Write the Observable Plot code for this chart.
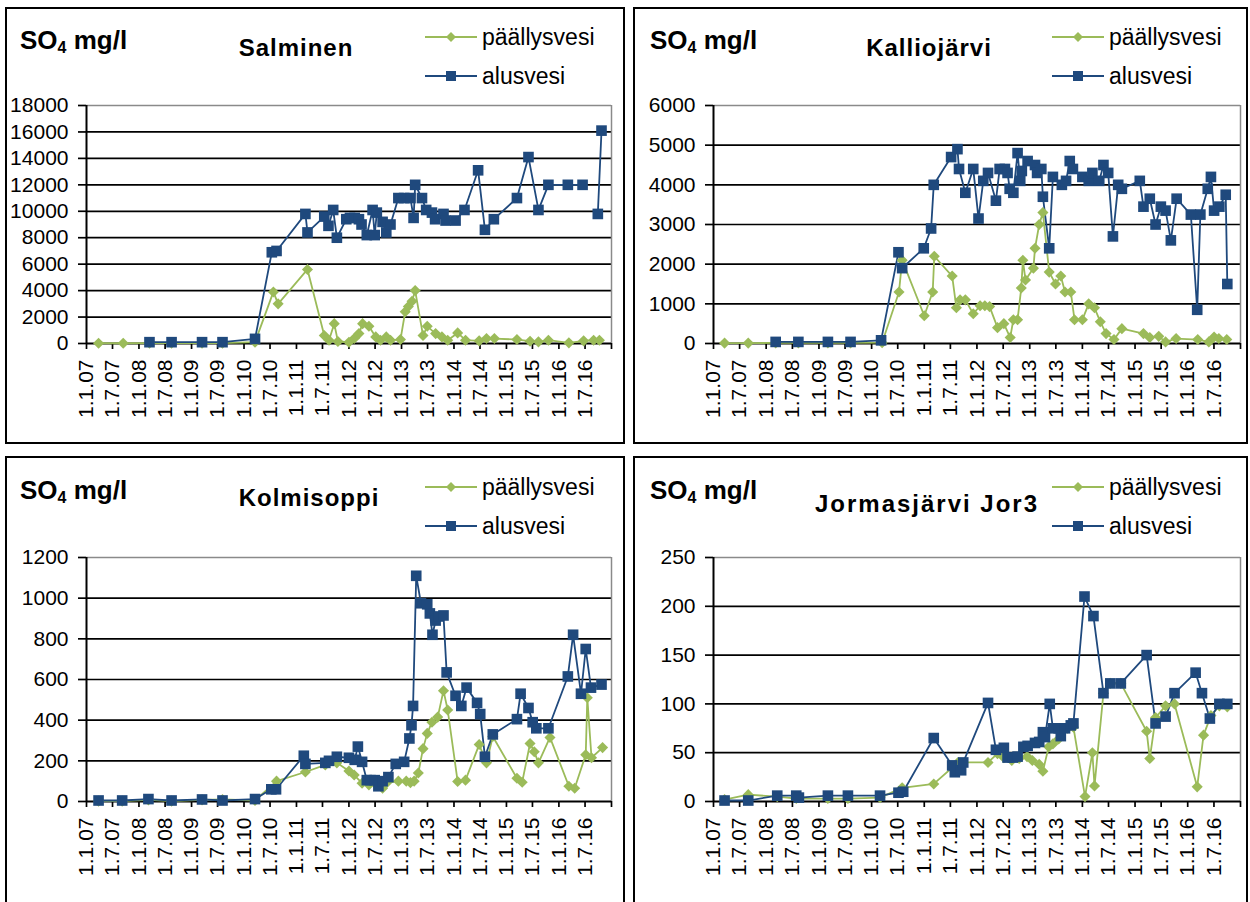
<!DOCTYPE html>
<html><head><meta charset="utf-8">
<script src="https://cdn.jsdelivr.net/npm/d3@7"></script>
<script src="https://cdn.jsdelivr.net/npm/@observablehq/plot@0.6"></script>
<style>
body{margin:0;background:#fff;font-family:"Liberation Sans",Arial,sans-serif;color:#000;}
#root{position:relative;width:1250px;height:902px;overflow:hidden;background:#fff;}
.frame{position:absolute;border:2px solid #000;box-sizing:border-box;}
.chart{position:absolute;}
.unit{position:absolute;font-weight:bold;font-size:26px;line-height:26px;white-space:nowrap;}
.unit sub{font-size:16px;vertical-align:baseline;position:relative;top:4px;}
.title{position:absolute;font-weight:bold;font-size:24px;line-height:24px;white-space:nowrap;transform:translateX(-50%);}
.leg{position:absolute;display:flex;align-items:center;height:26px;font-size:23px;white-space:nowrap;}
.leg svg{margin-right:5px;display:block;}
</style></head><body><div id="root"></div>
<script>
// ---------- DATA (decimal year, SO4 mg/l) ----------
const xTickLabels = ["1.1.07","1.7.07","1.1.08","1.7.08","1.1.09","1.7.09","1.1.10","1.7.10","1.1.11","1.7.11",
  "1.1.12","1.7.12","1.1.13","1.7.13","1.1.14","1.7.14","1.1.15","1.7.15","1.1.16","1.7.16"];
const seriesNames = ["päällysvesi","alusvesi"];

const salminenYTicks = [0,2000,4000,6000,8000,10000,12000,14000,16000,18000];
const salminenPaallysvesi = [[2007.23,20],[2007.70,20],[2008.20,30],[2008.62,30],[2009.20,30],[2009.59,30],[2010.21,100],
  [2010.56,3900],[2010.65,3000],[2011.21,5600],[2011.53,600],[2011.62,250],[2011.72,1500],[2011.79,150],[2012.00,100],
  [2012.10,375],[2012.19,750],[2012.26,1500],[2012.38,1300],[2012.51,500],[2012.60,250],[2012.71,500],[2012.79,250],
  [2012.98,300],[2013.07,2400],[2013.13,2800],[2013.20,3200],[2013.26,4000],[2013.41,600],[2013.49,1300],[2013.65,750],
  [2013.77,500],[2013.88,250],[2014.07,800],[2014.22,250],[2014.48,200],[2014.62,375],[2014.77,375],[2015.20,300],
  [2015.45,175],[2015.61,125],[2015.80,250],[2016.19,50],[2016.47,200],[2016.66,250],[2016.77,250]];
const salminenAlusvesi = [[2008.20,100],[2008.62,100],[2009.20,100],[2009.59,100],[2010.21,350],[2010.53,6900],[2010.62,7000],
  [2011.17,9800],[2011.21,8400],[2011.53,9600],[2011.61,8900],[2011.70,10100],[2011.77,8000],[2011.95,9400],[2012.02,9500],
  [2012.11,9500],[2012.19,9400],[2012.24,9000],[2012.34,8200],[2012.45,10100],[2012.49,8200],[2012.53,9900],[2012.64,9200],
  [2012.71,8400],[2012.79,9000],[2012.94,11000],[2013.05,11000],[2013.17,11000],[2013.23,9500],[2013.26,12000],[2013.39,11000],
  [2013.47,10100],[2013.58,9900],[2013.64,9400],[2013.80,9800],[2013.84,9300],[2014.03,9300],[2014.20,10100],[2014.46,13100],
  [2014.59,8600],[2014.76,9400],[2015.20,11000],[2015.42,14100],[2015.61,10100],[2015.80,12000],[2016.17,12000],[2016.45,12000],
  [2016.62,null],[2016.74,9800],[2016.81,16100]];

const kalliojarviYTicks = [0,1000,2000,3000,4000,5000,6000];
const kalliojarviPaallysvesi = [[2007.21,10],[2007.66,10],[2008.18,15],[2008.61,15],[2009.17,15],[2009.60,15],[2010.20,20],
  [2010.52,1300],[2010.58,2100],[2011.00,700],[2011.16,1300],[2011.19,2200],[2011.53,1700],[2011.61,900],[2011.68,1100],
  [2011.78,1100],[2011.93,750],[2012.06,950],[2012.15,950],[2012.24,930],[2012.39,400],[2012.51,500],[2012.63,150],
  [2012.69,600],[2012.77,600],[2012.84,1400],[2012.87,2100],[2012.92,1600],[2013.07,1900],[2013.10,2400],[2013.18,3000],
  [2013.25,3300],[2013.37,1800],[2013.49,1500],[2013.59,1700],[2013.67,1300],[2013.78,1300],[2013.85,600],[2014.00,600],
  [2014.12,1000],[2014.23,900],[2014.34,550],[2014.45,250],[2014.60,100],[2014.75,375],[2015.16,250],[2015.28,150],
  [2015.45,180],[2015.58,40],[2015.78,125],[2016.19,100],[2016.40,40],[2016.50,165],[2016.59,125],[2016.74,100]];
const kalliojarviAlusvesi = [[2008.18,40],[2008.61,40],[2009.17,40],[2009.60,40],[2010.18,80],[2010.51,2300],[2010.58,1900],
  [2010.99,2400],[2011.13,2900],[2011.18,4000],[2011.51,4700],[2011.63,4900],[2011.66,4400],[2011.78,3800],[2011.93,4400],
  [2012.03,3150],[2012.12,4100],[2012.21,4300],[2012.36,3600],[2012.43,4400],[2012.53,4400],[2012.58,4300],[2012.62,3900],
  [2012.69,3800],[2012.77,4800],[2012.82,4100],[2012.85,4350],[2012.96,4600],[2013.10,4500],[2013.14,4300],[2013.22,4400],
  [2013.25,3700],[2013.37,2400],[2013.44,4200],[2013.61,4000],[2013.69,4100],[2013.76,4600],[2013.82,4400],[2014.00,4200],
  [2014.12,4100],[2014.19,4300],[2014.32,4100],[2014.40,4500],[2014.49,4300],[2014.58,2700],[2014.68,4000],[2014.75,3900],
  [2015.09,4100],[2015.16,3450],[2015.28,3650],[2015.39,3000],[2015.49,3450],[2015.58,3350],[2015.68,2600],[2015.79,3650],
  [2016.06,3250],[2016.18,850],[2016.24,3250],[2016.38,3900],[2016.44,4200],[2016.50,3350],[2016.60,3450],[2016.72,3750],
  [2016.75,1500]];

const kolmisoppiYTicks = [0,200,400,600,800,1000,1200];
const kolmisoppiPaallysvesi = [[2007.23,2],[2007.68,2],[2008.18,8],[2008.62,2],[2009.20,8],[2009.59,10],[2010.21,5],
  [2010.62,100],[2011.17,145],[2011.55,180],[2011.77,190],[2012.00,150],[2012.10,130],[2012.25,90],[2012.38,82],
  [2012.49,90],[2012.64,65],[2012.71,90],[2012.94,100],[2013.09,100],[2013.17,93],[2013.24,100],[2013.32,140],
  [2013.41,260],[2013.49,335],[2013.58,390],[2013.69,415],[2013.80,545],[2013.88,450],[2014.07,98],[2014.22,105],
  [2014.48,280],[2014.62,190],[2014.74,320],[2015.20,114],[2015.30,95],[2015.45,285],[2015.53,245],[2015.61,190],
  [2015.83,315],[2016.19,75],[2016.30,65],[2016.51,230],[2016.54,510],[2016.62,215],[2016.83,265]];
const kolmisoppiAlusvesi = [[2007.23,5],[2007.68,5],[2008.18,12],[2008.62,5],[2009.20,10],[2009.59,5],[2010.21,12],
  [2010.52,60],[2010.61,60],[2011.14,225],[2011.17,185],[2011.55,190],[2011.62,200],[2011.77,220],[2012.00,215],
  [2012.11,205],[2012.17,270],[2012.25,195],[2012.34,105],[2012.41,105],[2012.49,105],[2012.56,75],[2012.64,100],
  [2012.75,120],[2012.89,185],[2013.05,195],[2013.15,310],[2013.19,375],[2013.22,470],[2013.28,1110],[2013.37,975],
  [2013.49,970],[2013.54,925],[2013.59,820],[2013.65,890],[2013.71,910],[2013.80,915],[2013.86,635],[2014.03,520],
  [2014.14,470],[2014.24,560],[2014.44,485],[2014.50,430],[2014.59,220],[2014.74,330],[2015.20,405],[2015.27,530],
  [2015.42,460],[2015.50,390],[2015.57,360],[2015.80,360],[2016.17,615],[2016.27,820],[2016.42,530],[2016.51,750],
  [2016.61,560],[2016.81,575]];

const jor3YTicks = [0,50,100,150,200,250];
const jor3Paallysvesi = [[2007.21,2],[2007.66,7],[2008.21,5],[2008.57,3],[2009.17,3],[2009.55,3],[2010.16,4],[2010.58,14],
  [2011.18,18],[2011.64,40],[2012.21,40],[2012.39,49],[2012.51,45],[2012.66,42],[2012.80,44],[2012.95,46],[2013.05,42],
  [2013.18,38],[2013.25,31],[2013.36,56],[2013.44,59],[2013.55,64],[2013.72,75],[2013.83,76],[2014.05,5],[2014.19,50],
  [2014.23,16],[2014.40,111],[2014.53,121],[2014.73,121],[2015.22,72],[2015.28,44],[2015.39,86],[2015.58,98],[2015.75,100],
  [2016.18,15],[2016.30,68],[2016.44,88],[2016.60,98],[2016.75,97]];
const jor3Alusvesi = [[2007.21,1],[2007.66,1],[2008.21,6],[2008.57,6],[2008.62,4],[2009.17,6],[2009.55,6],[2010.16,6],
  [2010.51,9],[2010.60,10],[2011.18,65],[2011.53,37],[2011.58,30],[2011.70,32],[2011.74,40],[2012.21,101],[2012.36,53],
  [2012.51,55],[2012.58,45],[2012.68,45],[2012.77,46],[2012.88,56],[2012.96,57],[2013.10,60],[2013.18,61],[2013.25,71],
  [2013.29,66],[2013.38,100],[2013.44,75],[2013.55,75],[2013.59,67],[2013.67,75],[2013.78,78],[2013.83,80],[2014.04,210],
  [2014.21,190],[2014.40,111],[2014.53,121],[2014.73,121],[2015.22,150],[2015.39,80],[2015.58,87],[2015.75,111],
  [2016.15,132],[2016.27,111],[2016.42,85],[2016.60,100],[2016.75,100]];

// ---------- HELPERS ----------
const GREEN = "#9BBB59", BLUE = "#1F497D";
function toDate(y) {
  const yr = Math.floor(y), s = Date.UTC(yr, 0, 1), e = Date.UTC(yr + 1, 0, 1);
  return new Date(s + (y - yr) * (e - s));
}
function parseLabel(l) {
  const [d, m, yy] = l.split(".").map(Number);
  return new Date(Date.UTC(2000 + yy, m - 1, d));
}
const labelDates = xTickLabels.map(parseLabel);
const xStart = labelDates[0];
const xEnd = new Date(Date.UTC(2017, 0, 1));
const labelByTime = new Map(labelDates.map((d, i) => [+d, xTickLabels[i]]));
const rows = arr => arr.map(([t, v]) => ({date: toDate(t), value: v}));

const panels = [
  {title: "Salminen", yTicks: salminenYTicks, green: salminenPaallysvesi, blue: salminenAlusvesi,
   frame: [5, 7, 620, 437], svg: [0, 0, 625, 444], m: [105, 14, 101, 86],
   unit: [20, 27], titlePos: [296, 36], legend: [425, 37], titleSpacing: 1},
  {title: "Kalliojärvi", yTicks: kalliojarviYTicks, green: kalliojarviPaallysvesi, blue: kalliojarviAlusvesi,
   frame: [633, 7, 615, 437], svg: [625, 0, 625, 444], m: [105, 10, 101, 88],
   unit: [650, 27], titlePos: [929, 36], legend: [1052, 37], titleSpacing: 1},
  {title: "Kolmisoppi", yTicks: kolmisoppiYTicks, green: kolmisoppiPaallysvesi, blue: kolmisoppiAlusvesi,
   frame: [5, 456, 620, 460], svg: [0, 450, 625, 452], m: [107, 14, 101, 86],
   unit: [20, 477], titlePos: [309, 486], legend: [425, 487], titleSpacing: 1},
  {title: "Jormasjärvi Jor3", yTicks: jor3YTicks, green: jor3Paallysvesi, blue: jor3Alusvesi,
   frame: [633, 456, 615, 460], svg: [625, 450, 625, 452], m: [107, 10, 101, 88],
   unit: [650, 477], titlePos: [927, 492], legend: [1052, 487], titleSpacing: 2}
];

const root = document.getElementById("root");
function el(tag, cls, css, html) {
  const e = document.createElement(tag);
  if (cls) e.className = cls;
  Object.assign(e.style, css);
  if (html != null) e.innerHTML = html;
  root.appendChild(e);
  return e;
}
function swatch(kind) {
  const c = kind === 0 ? GREEN : BLUE;
  const mk = kind === 0
    ? `<path d="M26,2 L31,7 L26,12 L21,7 Z" fill="${c}"/>`
    : `<rect x="21" y="2" width="10" height="10" fill="${c}"/>`;
  return `<svg width="52" height="14"><line x1="0" y1="7" x2="52" y2="7" stroke="${c}" stroke-width="2"/>${mk}</svg>`;
}

for (const p of panels) {
  el("div", "frame", {left: p.frame[0] + "px", top: p.frame[1] + "px", width: p.frame[2] + "px", height: p.frame[3] + "px"});
  const yMax = p.yTicks[p.yTicks.length - 1];
  const g = rows(p.green), b = rows(p.blue);
  const chart = Plot.plot({
    width: p.svg[2], height: p.svg[3],
    marginTop: p.m[0], marginRight: p.m[1], marginBottom: p.m[2], marginLeft: p.m[3],
    style: {fontFamily: '"Liberation Sans", Arial, sans-serif', color: "#000", background: "none", overflow: "visible"},
    x: {type: "utc", domain: [xStart, xEnd]},
    y: {domain: [0, yMax]},
    marks: [
      Plot.ruleY(p.yTicks.filter(v => v > 0 && v < yMax), {stroke: "#000", strokeWidth: 1.7}),
      Plot.ruleY([yMax], {stroke: "#8a8a8a", strokeWidth: 1.5}),
      Plot.ruleX([xEnd], {stroke: "#8a8a8a", strokeWidth: 1.5}),
      Plot.axisY({ticks: p.yTicks, tickSize: 8, tickPadding: 10, label: null, fontSize: 21, strokeWidth: 1.7,
        tickFormat: d => String(d)}),
      Plot.axisX({ticks: [...labelDates, xEnd], tickFormat: d => labelByTime.get(+d) ?? "", tickRotate: -90,
        tickSize: 6, tickPadding: 10, label: null, fontSize: 21, strokeWidth: 1.7}),
      Plot.ruleY([0], {stroke: "#000", strokeWidth: 2}),
      Plot.ruleX([xStart], {stroke: "#000", strokeWidth: 2}),
      Plot.line(g, {x: "date", y: "value", stroke: GREEN, strokeWidth: 1.8}),
      Plot.line(b, {x: "date", y: "value", stroke: BLUE, strokeWidth: 1.8}),
      Plot.dot(g, {x: "date", y: "value", symbol: "diamond2", r: 5, fill: GREEN}),
      Plot.dot(b, {x: "date", y: "value", symbol: "square", r: 6, fill: BLUE})
    ]
  });
  chart.classList.add("chart");
  Object.assign(chart.style, {left: p.svg[0] + "px", top: p.svg[1] + "px", position: "absolute"});
  root.appendChild(chart);

  el("div", "unit", {left: p.unit[0] + "px", top: p.unit[1] + "px"}, "SO<sub>4</sub> mg/l");
  el("div", "title", {left: p.titlePos[0] + "px", top: p.titlePos[1] + "px", letterSpacing: p.titleSpacing + "px"}, p.title);
  seriesNames.forEach((name, i) => {
    el("div", "leg", {left: p.legend[0] + "px", top: (p.legend[1] + i * 39 - 13) + "px"}, swatch(i) + `<span>${name}</span>`);
  });
}
</script></body></html>
